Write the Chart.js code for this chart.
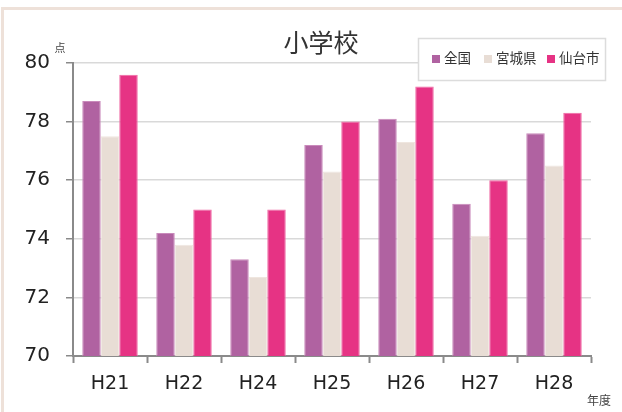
<!DOCTYPE html>
<html><head><meta charset="utf-8">
<script src="https://cdn.jsdelivr.net/npm/chart.js@4"></script>
<style>
html,body{margin:0;padding:0;background:#fff;}
#wrap{position:relative;width:622px;height:412px;}
#frame{position:absolute;left:1px;top:7px;right:0;bottom:0;border-top:3px solid #eee1d9;border-left:3px solid #eee1d9;pointer-events:none;}
</style></head>
<body>
<div id="wrap"><canvas id="c" width="622" height="412"></canvas><div id="frame"></div></div>
<script>
const categories = ['H21','H22','H24','H25','H26','H27','H28'];
const seriesNames = ['全国','宮城県','仙台市'];
const zenkoku = [78.7, 74.2, 73.3, 77.2, 78.1, 75.2, 77.6];
const miyagi  = [77.5, 73.8, 72.7, 76.3, 77.3, 74.1, 76.5];
const sendai  = [79.6, 75.0, 75.0, 78.0, 79.2, 76.0, 78.3];
const yTicks = [70, 72, 74, 76, 78, 80];
const titleText = '小学校';
const yUnit = '点';
const xUnit = '年度';

const fills = ['#b062a1', '#e8ddd5', '#e63384'];
const edges = ['#c98abb', '#efe6df', '#ef6aa4'];
const numFont = "'DejaVu Sans', sans-serif";
const jpFont = "'Noto Sans CJK JP', sans-serif";

const extras = {
  id: 'extras',
  afterDraw(chart) {
    const ctx = chart.ctx;
    ctx.save();
    ctx.fillStyle = '#333';
    ctx.font = "25px " + jpFont;
    ctx.textAlign = 'center';
    ctx.textBaseline = 'middle';
    ctx.fillText(titleText, 321, 42);
    ctx.fillStyle = '#444';
    ctx.font = "11px " + jpFont;
    ctx.fillText(yUnit, 60, 48);
    ctx.font = "12px " + jpFont;
    ctx.fillText(xUnit, 599, 400);
    ctx.fillStyle = '#fff';
    ctx.fillRect(418, 38, 188, 42);
    ctx.strokeStyle = '#dcdcdc';
    ctx.lineWidth = 1.5;
    ctx.strokeRect(418.5, 38.5, 187, 42);
    const xs = [432, 484, 547];
    ctx.font = "13.5px " + jpFont;
    ctx.textAlign = 'left';
    chart.data.datasets.forEach((ds, i) => {
      ctx.fillStyle = ds.backgroundColor;
      ctx.fillRect(xs[i], 55, 8, 8);
      ctx.fillStyle = '#333';
      ctx.fillText(ds.label, xs[i] + 12, 58);
    });
    ctx.restore();
  }
};

new Chart(document.getElementById('c'), {
  type: 'bar',
  data: {
    labels: categories,
    datasets: [zenkoku, miyagi, sendai].map((d, i) => ({
      label: seriesNames[i],
      data: d,
      backgroundColor: fills[i],
      borderColor: edges[i],
      borderWidth: 1,
      categoryPercentage: 0.75,
      barPercentage: 1.0
    }))
  },
  options: {
    responsive: false,
    animation: false,
    layout: { padding: { left: 0, right: 31, top: 63, bottom: 0 } },
    plugins: { legend: { display: false }, title: { display: false }, tooltip: { enabled: false } },
    scales: {
      x: {
        grid: { display: true, drawOnChartArea: false, drawTicks: true, tickLength: 7, tickColor: '#8a8a8a', tickWidth: 2, offset: true },
        border: { display: true, color: '#8a8a8a', width: 2 },
        ticks: { color: '#222', font: { family: numFont, size: 19 }, padding: 10 },
        afterFit(s) { s.height = 56; }
      },
      y: {
        min: 70, max: 80,
        afterBuildTicks(s) { s.ticks = yTicks.map(v => ({ value: v })); },
        grid: { color: '#d9d9d9', lineWidth: 1.5, drawTicks: true, tickLength: 7, tickColor: '#8a8a8a', tickWidth: 1.5 },
        border: { display: true, color: '#8a8a8a', width: 2 },
        ticks: { color: '#222', font: { family: numFont, size: 20 }, padding: 16 },
        afterFit(s) { s.width = 73; }
      }
    }
  },
  plugins: [extras]
});
</script>
</body></html>
